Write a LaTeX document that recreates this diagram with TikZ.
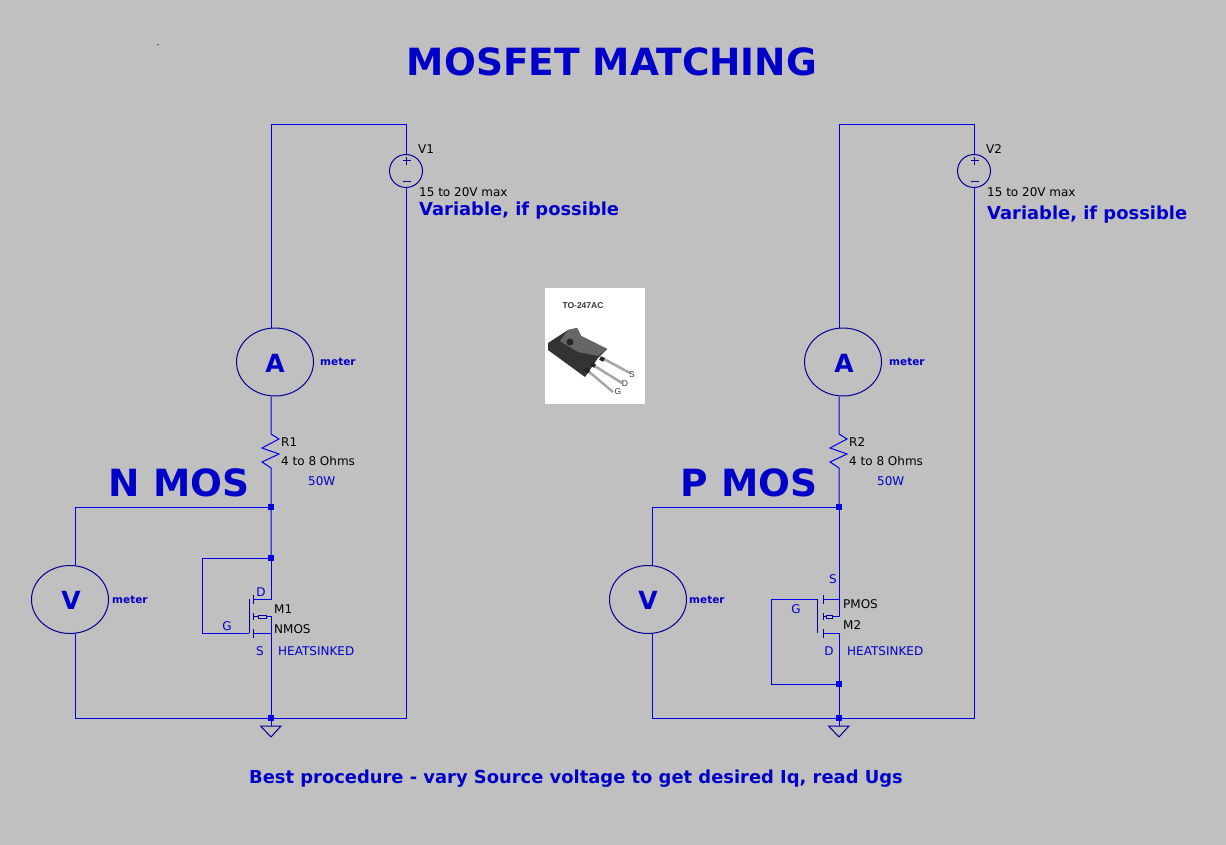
\documentclass[tikz,border=0pt]{standalone}
\usepackage{fontspec}
\setmainfont{DejaVu Sans}
\newfontfamily\pkgfont{Liberation Sans}
\usetikzlibrary{shapes.geometric}

\definecolor{panelgray}{HTML}{C0C0C0}
\definecolor{wireblue}{HTML}{0000E6}
\definecolor{textblue}{HTML}{0000C8}
\definecolor{partblue}{HTML}{000096}

\tikzset{
    wire/.style={wireblue, line width=1pt},
    part/.style={partblue, line width=1pt},
    junction/.style={fill=wireblue, draw=none, minimum size=6pt, inner sep=0pt},
    meterbody/.style={ellipse, draw=partblue, line width=1pt, minimum width=77pt, minimum height=68pt, inner sep=0pt},
    supply/.style={circle, draw=partblue, line width=1pt, minimum size=33pt, inner sep=0pt},
    partname/.style={black, anchor=west, inner sep=0pt, font=\fontsize{12}{14}\selectfont},
    partnote/.style={textblue, anchor=west, inner sep=0pt, font=\fontsize{12}{14}\selectfont},
    meternote/.style={textblue, anchor=west, inner sep=0pt, font=\bfseries\fontsize{10.5}{13}\selectfont},
    pinlabel/.style={textblue, inner sep=0pt, font=\fontsize{12}{14}\selectfont},
    bigtext/.style={textblue, inner sep=0pt, font=\bfseries\fontsize{17.9}{22}\selectfont},
    heading/.style={textblue, inner sep=0pt, font=\bfseries\fontsize{37.5}{44}\selectfont},
    metersign/.style={textblue, inner sep=0pt, font=\bfseries\fontsize{25}{30}\selectfont},
    pkgtext/.style={black!80, inner sep=0pt, font=\pkgfont\fontsize{8.5}{10}\selectfont},
    lead/.style={black!35, line width=2.5pt},
    collar/.style={black!85, line width=4pt},
}

\begin{document}
\begin{tikzpicture}[x=1pt, y=-1pt]
    \useasboundingbox[fill=panelgray] (0, 0) rectangle (1226, 845);

    \node[heading] (title) at (612, 62) {MOSFET MATCHING};
    \node[bigtext] (advice) at (576, 779) {Best procedure - vary Source voltage to get desired Iq, read Ugs};

    % stray specks
    \fill[black!70] (157, 44) rectangle (158.5, 45.5);
    \fill[white!90!black] (104.5, 131) rectangle (106, 132.5);

    % N MOS side
    \coordinate (topNa) at (271, 125);
    \coordinate (topNb) at (406, 125);
    \coordinate (botNv) at (75, 718);
    \coordinate (botNs) at (406, 718);
    \coordinate (topNv) at (75, 507);
    \node[supply] (V1) at (406, 171) {};
    \node[meterbody] (ammN) at (275, 362) {};
    \node[meterbody] (voltN) at (70, 599.5) {};
    \node[junction] (jNtop) at (271, 507) {};
    \node[junction] (jNgate) at (271, 558) {};
    \node[junction] (jNbot) at (271, 718) {};

    \draw[wire] (ammN.north -| topNa) -- (topNa) -- (topNb) -- (V1.north);
    \draw[wire] (V1.south) -- (botNs) -- (botNv) -- (voltN.south -| botNv);
    \draw[wire] (voltN.north -| topNv) -- (topNv) -- (jNtop.center);

    % R1
    \draw[wire] (ammN.south -| topNa) -- (271, 434) -- (279, 439) -- (262, 448) -- (279, 454) -- (262, 462) -- (271, 468) -- (jNtop.center) -- (jNgate.center);

    % M1
    \draw[wire] (jNgate.center) -- (271, 599) -- (253, 599);
    \draw[part] (253, 595) -- (253, 604);
    \draw[part] (249, 599) -- (249, 633);
    \draw[wire] (jNgate.center) -- (202, 558) -- (202, 633) -- (249, 633);
    \draw[part] (253, 613) -- (253, 620);
    \draw[part] (253, 616.5) -- (258, 616.5);
    \draw[part] (258, 615) rectangle (266, 618);
    \draw[wire] (266, 616.5) -- (271, 616.5) -- (jNbot.center);
    \draw[wire] (253, 633) -- (271, 633);
    \draw[part] (253, 629) -- (253, 638);

    % ground
    \draw[wire] (jNbot.center) -- (271, 726);
    \draw[part] (260.5, 726) -- (281, 726) -- (271, 737) -- cycle;

    % V1 signs
    \draw[part] (402.5, 161) -- (410.5, 161) (406.5, 157) -- (406.5, 165);
    \draw[part] (402.5, 182) -- (410.5, 182);

    \node[partname] (nameV1) at (418, 149) {V1};
    \node[partname] (valV1) at (419, 192) {15 to 20V max};
    \node[bigtext, anchor=west] (varV1) at (419, 211) {Variable, if possible};
    \node[metersign] (signA1) at (275, 363) {A};
    \node[metersign] (signV1) at (71, 600) {V};
    \node[meternote] (mA1) at (320, 362) {meter};
    \node[meternote] (mV1) at (112, 600) {meter};
    \node[partname] (nameR1) at (281, 442) {R1};
    \node[partname] (valR1) at (281, 461) {4 to 8 Ohms};
    \node[partnote] (wattR1) at (308, 481) {50W};
    \node[heading] (typeN) at (179, 483) {N MOS};
    \node[pinlabel] (pinD1) at (261, 592) {D};
    \node[pinlabel] (pinG1) at (227, 626) {G};
    \node[pinlabel] (pinS1) at (260, 651) {S};
    \node[partname] (nameM1) at (274, 609) {M1};
    \node[partname] (valM1) at (274, 629) {NMOS};
    \node[partnote] (heatM1) at (278, 651) {HEATSINKED};

    % P MOS side
    \coordinate (topPa) at (839, 125);
    \coordinate (topPb) at (974, 125);
    \coordinate (botPv) at (652, 718);
    \coordinate (botPs) at (974, 718);
    \coordinate (topPv) at (652, 507);
    \node[supply] (V2) at (974, 171) {};
    \node[meterbody] (ammP) at (843, 362) {};
    \node[meterbody] (voltP) at (648, 599.5) {};
    \node[junction] (jPtop) at (839, 507) {};
    \node[junction] (jPgate) at (839, 684) {};
    \node[junction] (jPbot) at (839, 718) {};

    \draw[wire] (ammP.north -| topPa) -- (topPa) -- (topPb) -- (V2.north);
    \draw[wire] (V2.south) -- (botPs) -- (botPv) -- (voltP.south -| botPv);
    \draw[wire] (voltP.north -| topPv) -- (topPv) -- (jPtop.center);

    % R2
    \draw[wire] (ammP.south -| topPa) -- (839, 434) -- (847, 439) -- (830, 448) -- (847, 454) -- (830, 462) -- (839, 468) -- (jPtop.center);

    % M2
    \draw[wire] (jPtop.center) -- (839, 616.5) -- (832, 616.5);
    \draw[part] (823, 616.5) -- (826, 616.5);
    \draw[part] (826, 615) rectangle (832, 618);
    \draw[part] (823, 613) -- (823, 620);
    \draw[wire] (823, 599) -- (839, 599);
    \draw[part] (823, 595) -- (823, 604);
    \draw[part] (817, 599) -- (817, 633);
    \draw[wire] (817, 599) -- (771, 599) -- (771, 684) -- (jPgate.center);
    \draw[wire] (823, 633) -- (839, 633) -- (jPgate.center) -- (jPbot.center);
    \draw[part] (823, 629) -- (823, 638);

    % ground
    \draw[wire] (jPbot.center) -- (839, 726);
    \draw[part] (828.5, 726) -- (849, 726) -- (839, 737) -- cycle;

    % V2 signs
    \draw[part] (970.5, 161) -- (978.5, 161) (974.5, 157) -- (974.5, 165);
    \draw[part] (970.5, 182) -- (978.5, 182);

    \node[partname] (nameV2) at (986, 149) {V2};
    \node[partname] (valV2) at (987, 192) {15 to 20V max};
    \node[bigtext, anchor=west] (varV2) at (987, 215) {Variable, if possible};
    \node[metersign] (signA2) at (844, 363) {A};
    \node[metersign] (signV2) at (648, 600) {V};
    \node[meternote] (mA2) at (889, 362) {meter};
    \node[meternote] (mV2) at (689, 600) {meter};
    \node[partname] (nameR2) at (849, 442) {R2};
    \node[partname] (valR2) at (849, 461) {4 to 8 Ohms};
    \node[partnote] (wattR2) at (877, 481) {50W};
    \node[heading] (typeP) at (749, 483) {P MOS};
    \node[pinlabel] (pinS2) at (833, 579) {S};
    \node[pinlabel] (pinG2) at (796, 609) {G};
    \node[pinlabel] (pinD2) at (829, 651) {D};
    \node[partname] (nameM2) at (843, 604) {PMOS};
    \node[partname] (valM2) at (843, 625) {M2};
    \node[partnote] (heatM2) at (847, 651) {HEATSINKED};

    % TO-247AC package
    \fill[white] (545, 288) rectangle (645, 404);
    \node[pkgtext, font=\pkgfont\bfseries\fontsize{8.5}{10}\selectfont] (pkgname) at (583, 306) {TO-247AC};
    \draw[lead] (602, 358) -- (630, 373);
    \draw[lead] (593, 365) -- (622, 383);
    \draw[lead] (587, 370) -- (613, 392);
    \fill[black!80] (548, 343) -- (568, 330) -- (577, 328) -- (581, 336) -- (607, 349) -- (598, 358) -- (585, 377) -- (548, 350) -- cycle;
    \fill[black!60] (568, 330) -- (577, 328) -- (581, 336) -- (607, 349) -- (598, 356) -- (578, 352) -- (560, 341) -- cycle;
    \fill[black!85] (570, 342) circle (3.5);
    \draw[collar] (600, 358) -- (604, 360);
    \draw[collar] (591, 364) -- (595, 366);
    \draw[collar] (585, 369) -- (589, 372);
    \node[pkgtext] (pkgS) at (632, 375) {S};
    \node[pkgtext] (pkgD) at (625, 384) {D};
    \node[pkgtext] (pkgG) at (618, 392) {G};
\end{tikzpicture}
\end{document}
